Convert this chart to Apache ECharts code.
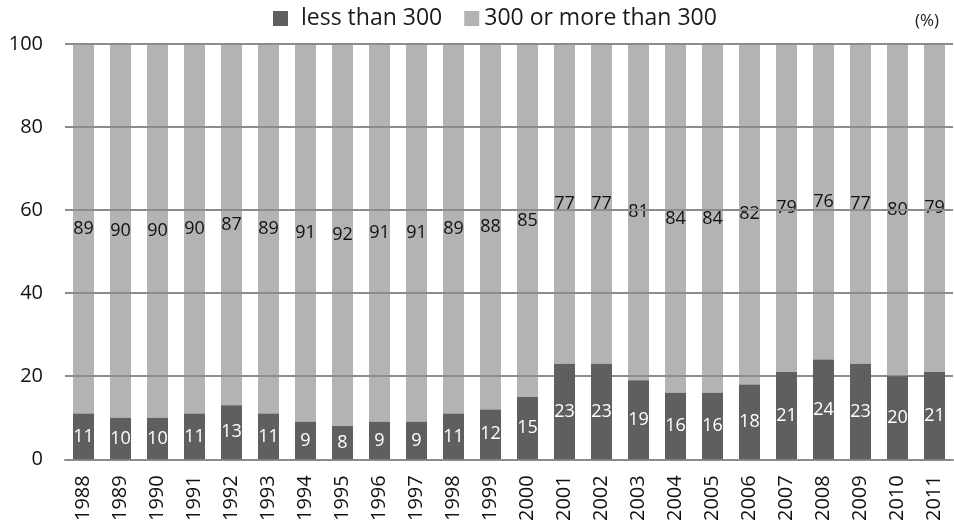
<!DOCTYPE html>
<html>
<head>
<meta charset="utf-8">
<script src="https://cdn.jsdelivr.net/npm/echarts@6/dist/echarts.min.js"></script>
<style>
  html, body { margin: 0; padding: 0; background: #fff; }
  #chart { width: 954px; height: 524px; }
</style>
</head>
<body>
<div id="chart"></div>
<script>
const years = ['1988','1989','1990','1991','1992','1993','1994','1995','1996','1997','1998','1999',
               '2000','2001','2002','2003','2004','2005','2006','2007','2008','2009','2010','2011'];
const lessThan300 = [11,10,10,11,13,11,9,8,9,9,11,12,15,23,23,19,16,16,18,21,24,23,20,21];
const moreThan300 = [89,90,90,90,87,89,91,92,91,91,89,88,85,77,77,81,84,84,82,79,76,77,80,79];
const yTicks = [0, 20, 40, 60, 80, 100];

const FONT = '"Open Sans", "Noto Sans", sans-serif';
const chart = echarts.init(document.getElementById('chart'));

chart.setOption({
  animation: false,
  textStyle: { fontFamily: FONT },
  title: {
    text: '(%)',
    right: 10,
    top: 8,
    textStyle: { fontSize: 17, fontWeight: 'normal', color: '#222', fontFamily: FONT }
  },
  legend: {
    top: 2,
    left: 268,
    itemWidth: 15,
    itemHeight: 15,
    itemGap: 22,
    icon: 'rect',
    formatter: function (name) {
      return name === 'less than 300' ? '{pad|}' + name : name;
    },
    textStyle: {
      fontSize: 23, color: '#1a1a1a', fontFamily: FONT,
      rich: { pad: { width: 8 } }
    },
    data: ['less than 300', '300 or more than 300']
  },
  grid: { left: 65, right: 1, top: 44, bottom: 64 },
  xAxis: {
    type: 'category',
    data: years,
    axisTick: { show: false },
    axisLine: { lineStyle: { color: '#8c8c8c', width: 2 } },
    axisLabel: { rotate: 90, fontSize: 20, color: '#111', margin: 16, fontFamily: FONT }
  },
  yAxis: {
    type: 'value',
    min: yTicks[0],
    max: yTicks[yTicks.length - 1],
    interval: yTicks[1] - yTicks[0],
    z: 3,
    axisLine: { show: false },
    axisTick: { show: false },
    axisLabel: { fontSize: 20, color: '#111', margin: 22, fontFamily: FONT },
    splitLine: { lineStyle: { color: '#8c8c8c', width: 2 } }
  },
  series: [
    {
      name: 'less than 300',
      type: 'bar',
      stack: 'share',
      barWidth: 21,
      data: lessThan300,
      itemStyle: { color: '#5f5f5f' },
      z: 4,
      label: { show: true, position: 'inside', color: '#fff', fontSize: 18, fontFamily: FONT }
    },
    {
      name: '300 or more than 300',
      type: 'bar',
      stack: 'share',
      barWidth: 21,
      data: moreThan300,
      itemStyle: { color: '#b3b3b3' },
      z: 2,
      label: { show: true, position: 'inside', color: '#111', fontSize: 18, fontFamily: FONT }
    }
  ]
});
</script>
</body>
</html>
